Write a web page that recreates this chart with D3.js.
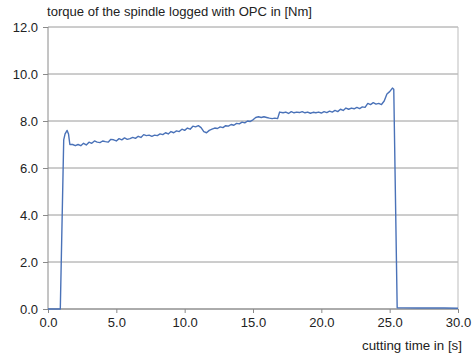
<!DOCTYPE html>
<html>
<head>
<meta charset="utf-8">
<script src="https://cdn.jsdelivr.net/npm/d3@7"></script>
<style>
  body { margin:0; background:#fff; }
  svg text { font-family: Arial, "Liberation Sans", sans-serif; fill:#222; }
</style>
</head>
<body>
<svg id="chart" width="473" height="356"></svg>
<script>
// time in [s]
var times = [0.0,0.5,0.9,1.15,1.25,1.4,1.5,1.6,1.8,2.0,2.2,2.4,2.6,2.8,3.0,3.2,3.4,3.6,3.8,4.0,
  4.2,4.4,4.6,4.8,5.0,5.2,5.4,5.6,5.8,6.0,6.2,6.4,6.6,6.8,7.0,7.2,7.4,7.6,7.8,8.0,
  8.2,8.4,8.6,8.8,9.0,9.2,9.4,9.6,9.8,10.0,10.2,10.4,10.6,10.8,11.0,11.2,11.4,11.6,11.8,12.0,
  12.2,12.4,12.6,12.8,13.0,13.2,13.4,13.6,13.8,14.0,14.2,14.4,14.6,14.8,15.0,15.2,15.4,15.6,15.8,16.0,
  16.2,16.4,16.6,16.8,16.95,17.2,17.4,17.6,17.8,18.0,18.2,18.4,18.6,18.8,19.0,19.2,19.4,19.6,19.8,20.0,
  20.2,20.4,20.6,20.8,21.0,21.2,21.4,21.6,21.8,22.0,22.2,22.4,22.6,22.8,23.0,23.2,23.4,23.6,23.8,24.0,
  24.2,24.4,24.6,24.8,25.0,25.2,25.3,25.55,26.0,27.0,28.0,29.0,30.0];
// torque in [Nm]
var torque = [0.0,0.0,0.0,7.2,7.45,7.6,7.45,7.0,7.0,6.95,7.0,6.95,7.05,6.98,7.1,7.05,7.15,7.1,7.08,7.15,
  7.12,7.1,7.22,7.2,7.15,7.25,7.2,7.28,7.22,7.25,7.3,7.26,7.35,7.3,7.42,7.38,7.4,7.35,7.4,7.38,
  7.45,7.42,7.5,7.45,7.55,7.5,7.58,7.55,7.65,7.6,7.7,7.65,7.78,7.75,7.8,7.72,7.55,7.5,7.6,7.65,
  7.7,7.68,7.75,7.72,7.8,7.78,7.85,7.82,7.9,7.88,7.95,7.92,8.0,7.98,8.05,8.15,8.18,8.15,8.18,8.15,
  8.12,8.1,8.12,8.1,8.38,8.35,8.38,8.32,8.4,8.35,8.38,8.36,8.4,8.35,8.38,8.33,8.37,8.35,8.38,8.34,
  8.4,8.36,8.42,8.38,8.45,8.4,8.5,8.45,8.55,8.5,8.55,8.52,8.58,8.53,8.6,8.58,8.75,8.7,8.78,8.72,
  8.75,8.7,8.85,9.15,9.25,9.4,9.35,0.05,0.05,0.04,0.05,0.04,0.03];
var xTicks = [0,5,10,15,20,25,30];
var yTicks = [0,2,4,6,8,10,12];
var title  = 'torque of the spindle logged with OPC in [Nm]';
var xLabel = 'cutting time in [s]';

var svg = d3.select('#chart');
var mLeft = 48, mRight = 458, mTop = 27, mBottom = 309;

var x = d3.scaleLinear().domain([0,30]).range([mLeft,mRight]);
var y = d3.scaleLinear().domain([0,12]).range([mBottom,mTop]);

// grid
svg.append('g').selectAll('line').data(yTicks).enter().append('line')
  .attr('x1',mLeft).attr('x2',mRight)
  .attr('y1',function(d){return y(d);}).attr('y2',function(d){return y(d);})
  .attr('stroke','#9a9a9a').attr('stroke-width',1);
svg.append('line').attr('x1',mRight).attr('x2',mRight).attr('y1',mTop).attr('y2',mBottom)
  .attr('stroke','#bdbdbd').attr('stroke-width',1);

// axes
var xAxis = svg.append('g').attr('transform','translate(0,'+mBottom+')')
  .call(d3.axisBottom(x).tickValues(xTicks).tickSize(4).tickPadding(5).tickFormat(d3.format('.1f')));
var yAxis = svg.append('g').attr('transform','translate('+mLeft+',0)')
  .call(d3.axisLeft(y).tickValues(yTicks).tickSize(5).tickPadding(5).tickFormat(d3.format('.1f')));
[xAxis,yAxis].forEach(function(a){
  a.select('.domain').attr('stroke','#8a8a8a');
  a.selectAll('.tick line').attr('stroke','#8a8a8a');
  a.selectAll('.tick text').attr('font-size','13px').attr('fill','#222')
    .attr('font-family','Arial, "Liberation Sans", sans-serif');
});
yAxis.select('.domain').attr('d','M0,'+mTop+'V'+mBottom);
xAxis.select('.domain').attr('d','M'+mLeft+',0H'+mRight);

// line
var line = d3.line().x(function(d){return x(d[0]);}).y(function(d){return y(d[1]);});
svg.append('path').datum(d3.zip(times,torque))
  .attr('d',line).attr('fill','none')
  .attr('stroke','#4a72b8').attr('stroke-width',1.4).attr('stroke-linejoin','round');

// labels
svg.append('text').attr('x',47).attr('y',16).attr('font-size','12px')
  .attr('textLength',265).attr('lengthAdjust','spacingAndGlyphs').text(title);
svg.append('text').attr('x',362).attr('y',350).attr('font-size','12px')
  .attr('textLength',100).attr('lengthAdjust','spacingAndGlyphs').text(xLabel);
</script>
</body>
</html>
